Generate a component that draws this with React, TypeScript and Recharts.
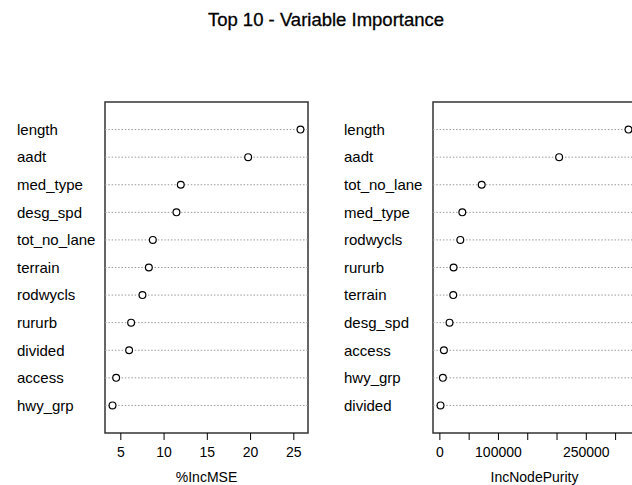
import React from 'react';
import { ReferenceArea, ReferenceLine, Scatter, ScatterChart, XAxis, YAxis } from 'recharts';

// %IncMSE panel, top to bottom
const mseLabels = ['length', 'aadt', 'med_type', 'desg_spd', 'tot_no_lane', 'terrain', 'rodwycls', 'rururb', 'divided', 'access', 'hwy_grp'];
const mseValues = [25.77, 19.72, 11.93, 11.43, 8.7, 8.24, 7.5, 6.19, 5.96, 4.46, 4.04];
const mseTicks = [5, 10, 15, 20, 25];
const mseTickLabels = ['5', '10', '15', '20', '25'];

// IncNodePurity panel, top to bottom
const purityLabels = ['length', 'aadt', 'tot_no_lane', 'med_type', 'rodwycls', 'rururb', 'terrain', 'desg_spd', 'access', 'hwy_grp', 'divided'];
const purityValues = [322000, 203600, 71400, 38300, 34900, 23400, 22800, 16500, 6900, 5100, 1100];
const purityTicks = [0, 50000, 100000, 150000, 200000, 250000, 300000];
const purityTickLabels = ['0', '', '100000', '', '', '250000', ''];

const FONT = '"Liberation Sans", Arial, sans-serif';

// like R's dotchart: range padded by 4%
function padRange(values: number[]): [number, number] {
  const lo = Math.min(...values);
  const hi = Math.max(...values);
  const pad = (hi - lo) * 0.04;
  return [lo - pad, hi + pad];
}

const Dot = (props: any) => <circle cx={props.cx} cy={props.cy} r={3.4} fill="#fff" stroke="#000" strokeWidth={1.2} />;

interface PanelProps {
  labels: string[];
  values: number[];
  ticks: number[];
  tickLabels: string[];
  title: string;
  left: number;
  width: number;
  axisWidth: number;
  labelX: number;
  marginRight: number;
}

function Panel({ labels, values, ticks, tickLabels, title, left, width, axisWidth, labelX, marginRight }: PanelProps) {
  const n = labels.length;
  const data = values.map((v, i) => ({ name: labels[i], value: v, row: n - i }));
  const domain = padRange(values);
  const rows = data.map((d) => d.row);

  const RowTick = (props: any) => {
    const idx = n - props.payload.value;
    return (
      <text x={labelX} y={props.y} dy="0.35em" textAnchor="start" fontSize={15} fill="#000" fontFamily={FONT}>
        {labels[idx]}
      </text>
    );
  };

  return (
    <div style={{ position: 'absolute', left, top: 0 }}>
      <ScatterChart width={width} height={485} margin={{ top: 102, right: marginRight, bottom: 0, left: 0 }} style={{ fontFamily: FONT }}>
        <XAxis
          type="number"
          dataKey="value"
          domain={domain}
          ticks={ticks}
          interval={0}
          tickFormatter={(v: number) => tickLabels[ticks.indexOf(v)] ?? ''}
          axisLine={false}
          tickLine={{ stroke: '#000' }}
          tickSize={7}
          tickMargin={7}
          tick={{ fill: '#000', fontSize: 14 }}
          height={52}
          allowDataOverflow
          label={{ value: title, position: 'insideBottom', offset: 3, fill: '#000', fontSize: 14 }}
        />
        <YAxis
          type="number"
          dataKey="row"
          domain={[0, n + 1]}
          ticks={rows}
          interval={0}
          axisLine={false}
          tickLine={false}
          width={axisWidth}
          tick={<RowTick />}
        />
        {rows.map((r) => (
          <ReferenceLine key={r} y={r} stroke="#999" strokeDasharray="1.5 1.8" strokeWidth={1} />
        ))}
        <ReferenceArea x1={domain[0]} x2={domain[1]} y1={0} y2={n + 1} fill="none" stroke="#333" strokeWidth={1.5} fillOpacity={0} />
        <Scatter data={data} shape={<Dot />} isAnimationActive={false} />
      </ScatterChart>
    </div>
  );
}

export default function App() {
  return (
    <div style={{ position: 'fixed', left: 0, top: 0, width: 632, height: 485, overflow: 'hidden', background: '#fff' }}>
      <div style={{ position: 'absolute', left: 0, top: 10, width: 652, textAlign: 'center', fontFamily: FONT, fontSize: 18.5, lineHeight: '20px', color: '#000', WebkitTextStroke: '0.3px #000' }}>
        Top 10 - Variable Importance
      </div>
      <Panel
        labels={mseLabels}
        values={mseValues}
        ticks={mseTicks}
        tickLabels={mseTickLabels}
        title="%IncMSE"
        left={0}
        width={320}
        axisWidth={105}
        labelX={17}
        marginRight={12}
      />
      <Panel
        labels={purityLabels}
        values={purityValues}
        ticks={purityTicks}
        tickLabels={purityTickLabels}
        title="IncNodePurity"
        left={320}
        width={330}
        axisWidth={113}
        labelX={24}
        marginRight={14}
      />
    </div>
  );
}
